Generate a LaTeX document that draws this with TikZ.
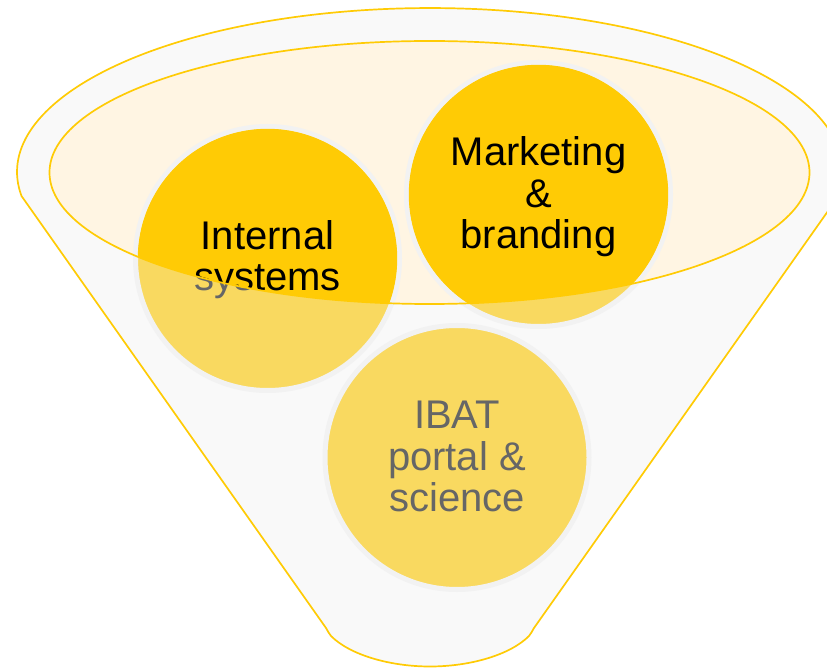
\documentclass[tikz,border=0pt]{standalone}
\usepackage{fontspec}
\setmainfont{Liberation Sans}
\definecolor{funnelfill}{HTML}{F9F9F9}
\definecolor{gold}{HTML}{FFCB05}
\definecolor{topfill}{HTML}{FFF5E3}
\definecolor{paleGold}{HTML}{F9D960}
\definecolor{ringgray}{HTML}{F2F2F2}
\definecolor{txtgray}{HTML}{666666}
\tikzset{
  outline/.style={draw=gold,line width=1.7pt},
  lowerball/.style={circle,fill=paleGold,draw=ringgray,line width=5pt,minimum size=264pt,inner sep=0pt},
  upperball/.style={fill=gold},
  ballabel/.style={align=center,inner sep=0pt,font=\fontsize{40}{41.5}\selectfont},
}
\begin{document}
\begin{tikzpicture}[x=1pt,y=1pt]
\useasboundingbox (0,0) rectangle (827,667);
\clip (0,0) rectangle (827,667);
% funnel body
\path[outline,fill=funnelfill]
  (21.5,471) arc[start angle=188.4,end angle=-8.4,x radius=413pt,y radius=164pt]
  -- (534,39) .. controls (532,36) and (531,33) .. (529,31)
  .. controls (510,12) and (470,0.5) .. (430,0.5)
  .. controls (390,0.5) and (350,12) .. (331,31)
  .. controls (329,33) and (328,36) .. (326,39) -- cycle;
% funnel mouth
\coordinate (mouth) at (429.5,494.5);
\path[fill=topfill] (mouth) ellipse[x radius=380pt,y radius=131.5pt];
% balls
\node[lowerball] (internal) at (267.5,408.5) {};
\node[lowerball] (marketing) at (538.5,472.5) {};
\node[lowerball] (ibat) at (457,209.5) {};
\node[ballabel,text=txtgray] (ibatlabel) at (457,210.5) {IBAT\\portal \&\\science};
\node[ballabel,text=txtgray] (internalgray) at (267.5,407.5) {Internal\\systems};
\begin{scope}
  \clip (mouth) ellipse[x radius=380pt,y radius=131.5pt];
  \fill[upperball] (internal.center) circle[radius=129.7pt];
  \fill[upperball] (marketing.center) circle[radius=129.7pt];
  \node[ballabel,text=black] (internallabel) at (267.5,407.5) {Internal\\systems};
\end{scope}
\node[ballabel,text=black] (marketinglabel) at (538.5,470) {Marketing\\\&\\branding};
\path[outline] (mouth) ellipse[x radius=380pt,y radius=131.5pt];
\end{tikzpicture}
\end{document}
